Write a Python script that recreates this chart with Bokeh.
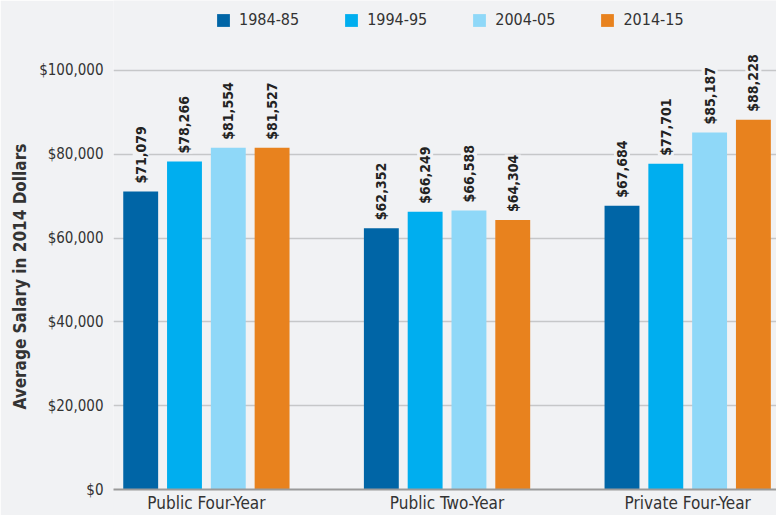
from bokeh.plotting import figure
from bokeh.models import (ColumnDataSource, FixedTicker, NumeralTickFormatter,
                          LabelSet, Legend, LegendItem, Range1d, Title)
from bokeh.core.properties import value
from bokeh.embed import file_html
from bokeh.resources import INLINE

# Average faculty salary by institution type (constant 2014 dollars)
categories = ["Public Four-Year", "Public Two-Year", "Private Four-Year"]
years = ["1984-85", "1994-95", "2004-05", "2014-15"]
salary_1984 = [71079, 62352, 67684]
salary_1994 = [78266, 66249, 77701]
salary_2004 = [81554, 66588, 85187]
salary_2014 = [81527, 64304, 88228]
y_ticks = [0, 20000, 40000, 60000, 80000, 100000]

series = [salary_1984, salary_1994, salary_2004, salary_2014]
colors = ["#0065a6", "#00aeef", "#8fd8f8", "#e8821e"]

BG = "#f1f2f4"
FONT = "DejaVu Sans Condensed"

p = figure(width=776, height=515, output_backend="svg", toolbar_location=None,
           x_range=Range1d(-0.386, 2.369), y_range=Range1d(0, 116667),
           min_border_left=112, min_border_right=0, min_border_top=0,
           min_border_bottom=22)
p.background_fill_color = BG
p.border_fill_color = BG
p.outline_line_color = None

step = 0.182
bar_w = 0.145
items = []
for i, (vals, col, yr) in enumerate(zip(series, colors, years)):
    off = (i - 1.5) * step
    xs = [k + off for k in range(len(categories))]
    src = ColumnDataSource(dict(x=xs, top=vals,
                                txt=["${:,}".format(v) for v in vals]))
    r = p.vbar(x="x", top="top", width=bar_w, source=src,
               fill_color=col, line_color=None)
    items.append(LegendItem(label=yr, renderers=[r]))
    lbl = LabelSet(x="x", y="top", text="txt", source=src, angle=1.5708,
                   text_align="left", text_baseline="middle", y_offset=8,
                   text_font=value(FONT), text_font_style="bold",
                   text_font_size="14px", text_color="#222222",
                   background_fill_color=BG)
    p.add_layout(lbl)

legend = Legend(items=items, orientation="horizontal", location=(102, 460),
                glyph_width=16, glyph_height=16, label_standoff=8,
                label_width=60, label_height=16, spacing=44, padding=0,
                margin=0, border_line_color=None, background_fill_alpha=0,
                label_text_font=FONT, label_text_font_size="16px",
                label_text_color="#333333")
p.add_layout(legend)

# y axis
p.yaxis.ticker = FixedTicker(ticks=y_ticks)
p.yaxis.formatter = NumeralTickFormatter(format="$0,0")
p.yaxis.axis_line_color = None
p.yaxis.major_tick_line_color = None
p.yaxis.minor_tick_line_color = None
p.yaxis.major_tick_out = 0
p.yaxis.major_label_standoff = 10
p.yaxis.major_label_text_font = FONT
p.yaxis.major_label_text_font_size = "15px"
p.yaxis.major_label_text_color = "#333333"

# y axis title, centred on the $0-$100,000 span rather than the whole frame
y_title = Title(text="Average Salary in 2014 Dollars", align="left",
                offset=80, standoff=14, text_font=FONT,
                text_font_style="bold", text_font_size="17px",
                text_color="#333333")
p.add_layout(y_title, "left")

p.ygrid.ticker = FixedTicker(ticks=y_ticks)
p.ygrid.grid_line_color = "#c6c7c9"
p.ygrid.grid_line_width = 1.5
p.xgrid.grid_line_color = None

# x axis
p.xaxis.ticker = FixedTicker(ticks=list(range(len(categories))))
p.xaxis.major_label_overrides = {k: c for k, c in enumerate(categories)}
p.xaxis.axis_line_color = "#9a9a9a"
p.xaxis.axis_line_width = 2
p.xaxis.major_tick_line_color = None
p.xaxis.minor_tick_line_color = None
p.xaxis.major_tick_out = 0
p.xaxis.major_label_standoff = 3
p.xaxis.major_label_text_font = FONT
p.xaxis.major_label_text_font_size = "17px"
p.xaxis.major_label_text_color = "#333333"

open("out.html", "w").write(file_html(p, INLINE))
